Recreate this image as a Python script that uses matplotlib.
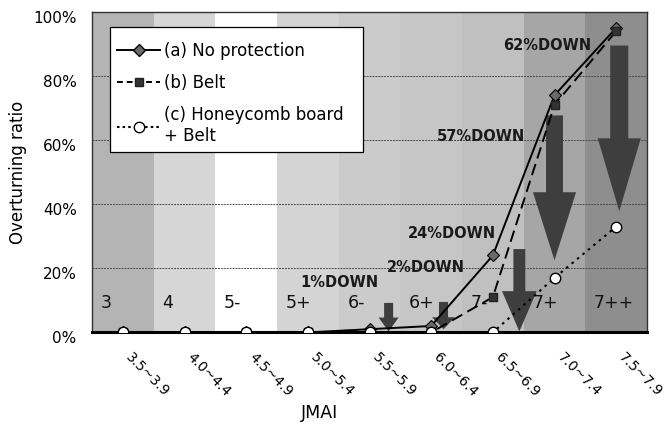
import matplotlib
matplotlib.use("Agg")
import matplotlib.pyplot as plt
from matplotlib.lines import Line2D
from matplotlib.patches import FancyArrowPatch, ArrowStyle, Rectangle
import matplotlib.transforms as mtransforms

# ---------------- data ----------------
jmai_ranges = ["3.5~3.9", "4.0~4.4", "4.5~4.9", "5.0~5.4", "5.5~5.9",
               "6.0~6.4", "6.5~6.9", "7.0~7.4", "7.5~7.9"]
intensity = ["3", "4", "5-", "5+", "6-", "6+", "7-", "7+", "7++"]
no_protection = [0, 0, 0, 0, 1, 2, 24, 74, 95]
belt = [0, 0, 0, 0, 0, 0, 11, 71, 94]
honeycomb_belt = [0, 0, 0, 0, 0, 0, 0, 17, 33]

down_labels = ["1%DOWN", "2%DOWN", "24%DOWN", "57%DOWN", "62%DOWN"]
down_x = [3.51, 4.92, 5.33, 5.81, 6.88]
down_y = [15.7, 20.3, 30.8, 61.0, 89.5]

arrow_x = [4.31, 5.20, 6.43, 7.00, 8.05]
arrow_top = [9.2, 9.5, 26.0, 67.7, 89.5]
arrow_tip = [0.3, 1.0, 0.3, 22.5, 37.8]

yticks = [0, 20, 40, 60, 80, 100]

# ---------------- styles ----------------
band_colors = ["#b4b4b4", "#d6d6d6", "#ffffff", "#d4d4d4", "#cbcbcb",
               "#c6c6c6", "#c0c0c0", "#a6a6a6", "#8e8e8e"]
# (tail width, head width, head length) in points
arrow_styles = [(6.5, 14.4, 10), (6.5, 16.5, 8.6), (8.6, 25, 29),
                (12.2, 31, 49), (13, 31, 52.5)]

W, H = 667, 428
fig = plt.figure(figsize=(W / 100, H / 100), dpi=100)
AX_L, AX_B, AX_W, AX_H = 92, 332.4, 555, 320.5
ax = fig.add_axes([AX_L / W, (H - AX_B) / H, AX_W / W, AX_H / H])

def ax_frac(px, py):
    return (px - AX_L) / AX_W, (AX_B - py) / AX_H

x = list(range(len(jmai_ranges)))
for i, c in enumerate(band_colors):
    ax.axvspan(i - 0.5, i + 0.5, color=c, zorder=0, lw=0)

for yv in yticks[1:-1]:
    ax.axhline(yv, color="#4a4a4a", lw=0.7, ls=(0, (2, 1)), zorder=1)

for xa, yt, yb, (tw, hw, hl) in zip(arrow_x, arrow_top, arrow_tip, arrow_styles):
    st = ArrowStyle.Simple(head_length=hl, head_width=hw, tail_width=tw)
    p = FancyArrowPatch((xa, yt), (xa, yb), arrowstyle=st, mutation_scale=1,
                        shrinkA=0, shrinkB=0, color="#3e3e3e", lw=0, zorder=2)
    ax.add_patch(p)

ax.plot(x, no_protection, color="black", lw=1.4, marker="D", ms=6,
        mfc="#6a6a6a", mec="black", mew=0.8, zorder=4)
ax.plot(x, belt, color="black", lw=1.4, ls=(0, (6, 3)), marker="s", ms=6,
        mfc="#333333", mec="#222222", zorder=5)
ax.plot(x, honeycomb_belt, color="black", lw=1.5, ls=(0, (1.2, 2.2)),
        marker="o", ms=7.5, mfc="white", mec="black", mew=1.0, zorder=6)

for i, t in enumerate(intensity):
    ax.text(i - 0.36, 9.3, t, fontsize=12.5, ha="left", va="center",
            color="#111111", zorder=3)

for t, xd, yd in zip(down_labels, down_x, down_y):
    ax.text(xd, yd, t, fontsize=10.5, fontweight="bold", ha="center",
            va="center", color="#1a1a1a", zorder=3)

ax.set_xlim(-0.5, 8.5)
ax.set_ylim(0, 100)
ax.set_yticks(yticks)
ax.set_yticklabels([f"{v}%" for v in yticks], fontsize=11)
ax.tick_params(axis="y", length=0, pad=11)
off = mtransforms.ScaledTranslation(0, -5 / 100, fig.dpi_scale_trans)
for lab in ax.get_yticklabels():
    lab.set_transform(lab.get_transform() + off)

ax.set_xticks(x)
ax.set_xticklabels([])
for i, t in enumerate(jmai_ranges):
    ax.annotate(t, xy=(i, 0), xycoords="data", xytext=(5, -23),
                textcoords="offset pixels", rotation=-45,
                rotation_mode="anchor", ha="left", va="center", fontsize=10,
                annotation_clip=False)
ax.tick_params(axis="x", length=0)

for s in ["left", "top", "right"]:
    ax.spines[s].set_color("#333333")
    ax.spines[s].set_linewidth(1.0)
ax.spines["bottom"].set_linewidth(2.2)
ax.spines["bottom"].set_color("black")
ax.spines["bottom"].set_zorder(3)

ax.set_ylabel("Overturning ratio", fontsize=12)
ax.yaxis.set_label_coords(-0.117, 0.5)
fig.text(319 / W, 1 - 413 / H, "JMAI", fontsize=12.5, ha="center", va="center")

# legend box
bx0, by0 = ax_frac(110, 152)
bx1, by1 = ax_frac(363, 27)
ax.add_patch(Rectangle((bx0, by0), bx1 - bx0, by1 - by0, transform=ax.transAxes,
                       facecolor="white", edgecolor="black", lw=0.9, zorder=9))

handles = [
    Line2D([], [], color="black", lw=1.4, marker="D", ms=6, mfc="#6a6a6a",
           mec="black"),
    Line2D([], [], color="black", lw=1.4, ls=(0, (3, 2)), marker="s", ms=6,
           mfc="#333333", mec="#222222"),
    Line2D([], [], color="black", lw=1.5, ls=(0, (1.2, 1.5)), marker="o",
           ms=7.5, mfc="white", mec="black"),
]
labels = ["(a) No protection", "(b) Belt", "(c) Honeycomb board\n+ Belt"]
lx, ly = ax_frac(117, 42)
leg = ax.legend(handles, labels, loc="upper left", bbox_to_anchor=(lx, ly),
                fontsize=12, frameon=False, handlelength=2.6,
                handletextpad=0.2, labelspacing=0.85, borderpad=0,
                borderaxespad=0)
leg.set_zorder(10)

fig.savefig("out.png", dpi=100)
